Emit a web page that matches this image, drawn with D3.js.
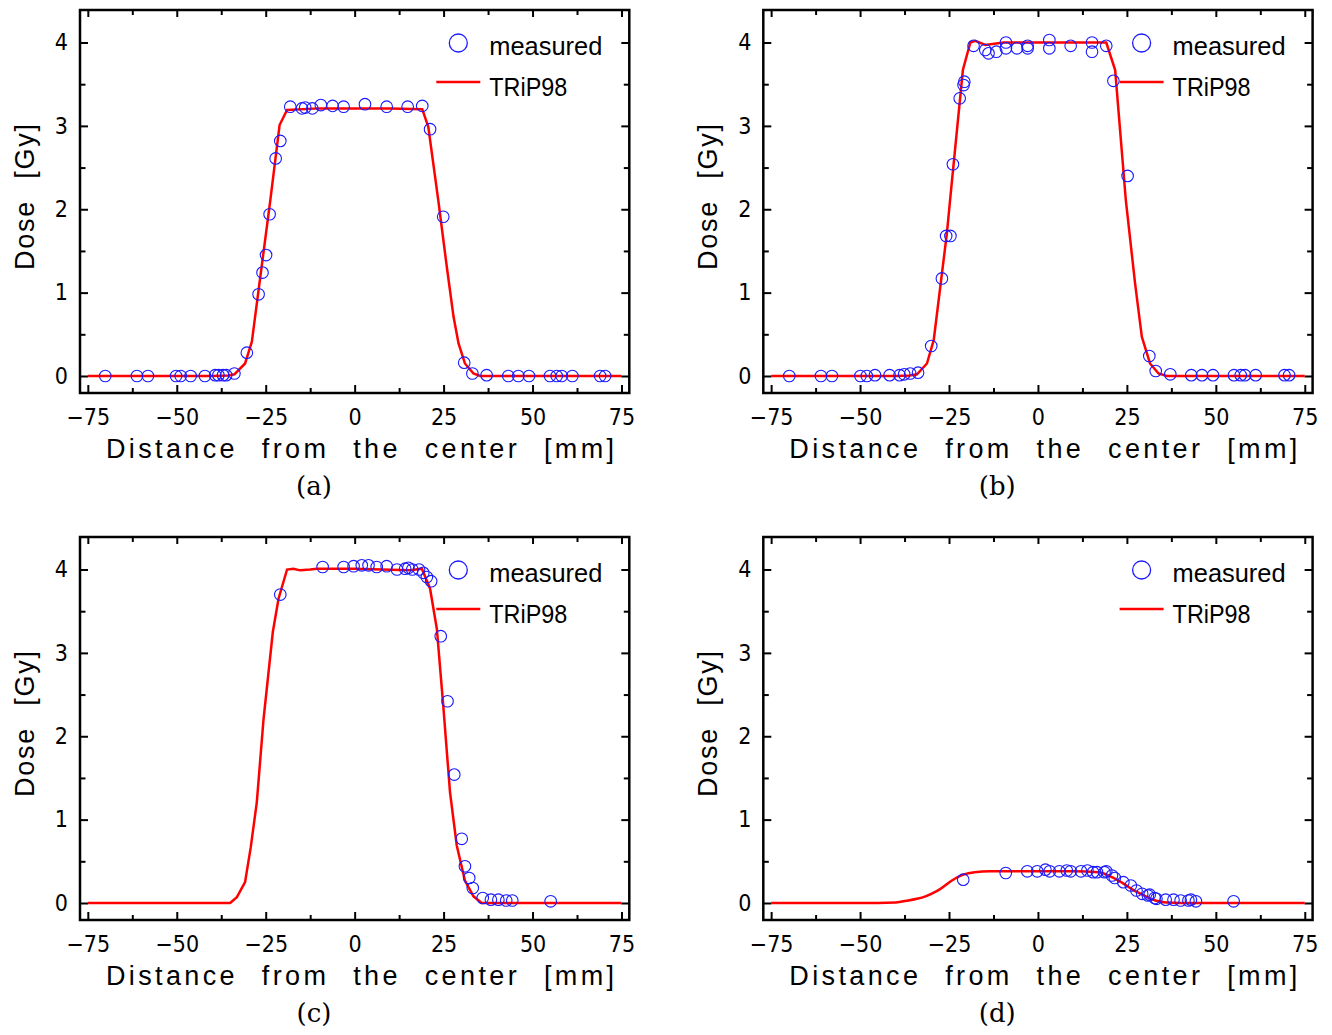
<!DOCTYPE html>
<html>
<head>
<meta charset="utf-8">
<script src="https://cdn.jsdelivr.net/npm/d3@7"></script>
<style>
  body { margin: 0; background: #fff; }
  .tick text { font-family: "Liberation Sans Narrow", "DejaVu Sans Condensed", sans-serif; font-size: 23px; fill: #000; }
  .tick line { stroke: #000; stroke-width: 2; }
  .title { font-family: "Liberation Sans", sans-serif; font-size: 27px; fill: #000; }
</style>
</head>
<body>
<div id="chart"></div>
<script>
// tick values
const xTicks = [-75, -50, -25, 0, 25, 50, 75];
const xMinor = [-62.5, -37.5, -12.5, 12.5, 37.5, 62.5];
const yTicks = [0, 1, 2, 3, 4];
const yMinor = [0.5, 1.5, 2.5, 3.5];
const panelLabels = ["(a)", "(b)", "(c)", "(d)"];

// (a) measured + TRiP98
const measAx = [-70.1,-61.2,-58.1,-50.2,-48.9,-46.1,-42.1,-39.2,-38.3,-37.0,-36.1,-33.8,-30.3,-27.0,-25.9,-24.9,-23.9,-22.2,-20.9,-18.1,-14.8,-13.9,-11.9,-9.5,-6.2,-3.1,2.9,9.0,14.9,19.0,21.2,24.9,30.8,33.1,37.1,43.2,46.0,49.0,54.9,56.8,58.2,61.2,69.0,70.4];
const measAy = [0,0,0,0,0,0,0,0.01,0.01,0.01,0.01,0.03,0.28,0.98,1.24,1.45,1.94,2.61,2.82,3.23,3.21,3.22,3.21,3.25,3.24,3.23,3.26,3.23,3.23,3.24,2.96,1.91,0.16,0.03,0.01,0,0,0,0,0,0,0,0,0];
const fitAx = [-75,-40,-35.5,-33.8,-30.8,-28.9,-23.7,-21.1,-19.0,-10,0,10,19.0,20.7,23.5,25.9,27.8,29.2,31.0,33.4,35.3,75];
const fitAy = [0,0,0.005,0.02,0.15,0.41,2.11,3.01,3.19,3.21,3.21,3.21,3.20,2.99,2.11,1.31,0.71,0.39,0.15,0.03,0,0];

// (b)
const measBx = [-69.9,-61.0,-57.9,-49.9,-48.1,-45.8,-41.7,-38.9,-37.6,-35.9,-33.7,-30.0,-27.0,-25.8,-24.6,-23.9,-22.0,-20.9,-20.7,-18.1,-14.8,-13.9,-11.7,-9.0,-9.0,-5.9,-2.9,-2.9,3.2,3.2,9.2,15.2,15.2,19.2,21.2,25.2,31.3,33.1,37.2,43.1,46.1,49.2,55.1,57.0,58.2,61.2,69.3,70.6];
const measBy = [0,0,0,0,0,0.01,0.01,0.01,0.02,0.03,0.04,0.36,1.17,1.68,1.68,2.54,3.33,3.49,3.53,3.96,3.91,3.87,3.89,4.0,3.93,3.93,3.96,3.93,4.03,3.93,3.96,4.0,3.89,3.96,3.54,2.40,0.24,0.06,0.02,0.01,0.01,0.01,0.01,0.01,0.01,0.01,0.01,0.01];
const fitBx = [-75,-40,-36,-34.0,-31.2,-29.3,-25.6,-24.7,-21.1,-19.0,-17.6,-14.8,-9.7,0,10,19.2,21.7,24.7,27.3,29.2,31.5,33.9,36.2,75];
const fitBy = [0,0,0.005,0.02,0.15,0.43,1.71,2.11,3.67,4.0,4.02,3.97,4.0,4.0,4.0,4.0,3.67,2.11,1.11,0.47,0.15,0.03,0,0];

// (c)
const measCx = [-20.9,-9.0,-3.1,-0.3,2.0,3.9,6.2,9.0,11.9,14.2,15.1,16.2,18.1,19.3,20.3,21.5,24.2,26.1,28.0,30.1,31.0,32.2,33.2,36.0,38.3,40.4,42.6,44.3,55.1];
const measCy = [3.70,4.03,4.03,4.04,4.05,4.05,4.03,4.04,4.0,4.01,4.02,4.0,4.0,3.96,3.91,3.86,3.20,2.42,1.54,0.77,0.44,0.30,0.18,0.06,0.04,0.04,0.03,0.03,0.02];
const fitCx = [-75,-35,-33.1,-30.8,-29.2,-27.5,-25.6,-23.0,-21.4,-19.0,-17.2,-15.3,-12.5,-10.6,-0.4,15.6,18.9,21.2,23.1,24.9,26.8,28.7,31.0,33.4,35.7,75];
const fitCy = [0,0,0.07,0.25,0.67,1.21,2.21,3.25,3.65,4.0,4.01,3.99,4.0,4.01,4.01,3.99,4.01,3.77,3.29,2.37,1.33,0.69,0.27,0.08,0,0];

// (d)
const measDx = [-21.0,-9.05,-3.0,-0.2,2.1,3.3,6.0,8.1,9.2,12.1,13.9,15.5,16.6,18.7,19.2,20.8,21.6,24.0,26.1,27.7,29.3,30.9,31.4,32.8,33.3,35.9,38.1,40.1,42.3,43.0,44.4,55.0];
const measDy = [0.28,0.36,0.38,0.38,0.40,0.38,0.38,0.39,0.38,0.38,0.39,0.37,0.37,0.37,0.38,0.33,0.30,0.25,0.21,0.15,0.11,0.09,0.10,0.06,0.05,0.04,0.04,0.03,0.03,0.04,0.02,0.02];
const fitDx = [-75,-45,-40,-37.9,-34,-31.6,-29,-27.4,-24.2,-21,-17.8,-13.6,0,10,17.1,20.8,23.4,26.6,29.8,33,36.1,40,75];
const fitDy = [0,0,0.005,0.02,0.05,0.08,0.13,0.17,0.27,0.34,0.37,0.38,0.38,0.38,0.37,0.31,0.25,0.16,0.09,0.03,0.005,0,0];

const W = 1332, H = 1035;
const pw = 549.3, ph = 383;

const svg = d3.select("#chart").append("svg")
  .attr("width", W)
  .attr("height", H);

const x = d3.scaleLinear().domain([-77.2, 77.2]).range([0, pw]);
const y = d3.scaleLinear().domain([-0.204, 4.39]).range([ph, 0]);
const fmt = d3.format("d");

const panels = [
  { mx: measAx, my: measAy, fx: fitAx, fy: fitAy, col: 0, row: 0, curve: d3.curveLinear },
  { mx: measBx, my: measBy, fx: fitBx, fy: fitBy, col: 1, row: 0, curve: d3.curveLinear },
  { mx: measCx, my: measCy, fx: fitCx, fy: fitCy, col: 0, row: 1, curve: d3.curveLinear },
  { mx: measDx, my: measDy, fx: fitDx, fy: fitDy, col: 1, row: 1, curve: d3.curveMonotoneX }
];

panels.forEach(function (p, i) {
  let left = 80 + p.col * 683.3;
  let top = 10 + p.row * 527;
  let g = svg.append("g").attr("transform", "translate(" + left + "," + top + ")");

  // ticks, all pointing inward
  let axes = [
    { ax: d3.axisBottom(x).tickValues(xTicks).tickSize(-8).tickPadding(16).tickFormat(fmt), tr: [0, ph] },
    { ax: d3.axisBottom(x).tickValues(xMinor).tickSize(-5).tickFormat(""), tr: [0, ph] },
    { ax: d3.axisTop(x).tickValues(xTicks).tickSize(-7).tickFormat(""), tr: [0, 0] },
    { ax: d3.axisTop(x).tickValues(xMinor).tickSize(-5).tickFormat(""), tr: [0, 0] },
    { ax: d3.axisLeft(y).tickValues(yTicks).tickSize(-8).tickPadding(12).tickFormat(fmt), tr: [0, 0] },
    { ax: d3.axisLeft(y).tickValues(yMinor).tickSize(-5.5).tickFormat(""), tr: [0, 0] },
    { ax: d3.axisRight(y).tickValues(yTicks).tickSize(-8).tickFormat(""), tr: [pw, 0] },
    { ax: d3.axisRight(y).tickValues(yMinor).tickSize(-5.5).tickFormat(""), tr: [pw, 0] }
  ];
  axes.forEach(function (a) {
    let ag = g.append("g")
      .attr("transform", "translate(" + a.tr[0] + "," + a.tr[1] + ")")
      .call(a.ax);
    ag.select(".domain").remove();
    ag.attr("font-family", null).attr("font-size", null);
  });

  g.append("rect")
    .attr("width", pw).attr("height", ph)
    .attr("fill", "none")
    .attr("stroke", "#000")
    .attr("stroke-width", 2.5);

  // TRiP98 curve
  let pts = p.fx.map((v, k) => [v, p.fy[k]]);
  let line = d3.line().x(d => x(d[0])).y(d => y(d[1])).curve(p.curve);
  g.append("path")
    .attr("d", line(pts))
    .attr("fill", "none")
    .attr("stroke", "#ff0000")
    .attr("stroke-width", 2.5);

  // measured points
  let meas = p.mx.map((v, k) => [v, p.my[k]]);
  g.selectAll("circle.m")
    .data(meas).enter()
    .append("circle")
    .attr("class", "m")
    .attr("cx", d => x(d[0]))
    .attr("cy", d => y(d[1]))
    .attr("r", 5.8)
    .attr("fill", "none")
    .attr("stroke", "#1a1aff")
    .attr("stroke-width", 1.1);

  // legend
  g.append("circle")
    .attr("cx", pw - 171).attr("cy", 33).attr("r", 9)
    .attr("fill", "none").attr("stroke", "#1a1aff").attr("stroke-width", 1.3);
  g.append("text")
    .attr("class", "title")
    .attr("x", pw - 140).attr("y", 45)
    .style("font-size", "26px")
    .attr("textLength", 113).attr("lengthAdjust", "spacingAndGlyphs")
    .text("measured");
  g.append("line")
    .attr("x1", pw - 193).attr("x2", pw - 149)
    .attr("y1", 72).attr("y2", 72)
    .attr("stroke", "#ff0000").attr("stroke-width", 2.5);
  g.append("text")
    .attr("class", "title")
    .attr("x", pw - 140).attr("y", 86)
    .style("font-size", "26px")
    .attr("textLength", 78).attr("lengthAdjust", "spacingAndGlyphs")
    .text("TRiP98");

  // axis titles
  g.append("text")
    .attr("class", "title")
    .attr("x", 26).attr("y", ph + 65)
    .style("letter-spacing", "2px")
    .style("word-spacing", "13px")
    .attr("textLength", 510).attr("lengthAdjust", "spacing")
    .text("Distance from the center [mm]");
  g.append("text")
    .attr("class", "title")
    .attr("transform", "translate(-46," + 260 + ") rotate(-90)")
    .style("letter-spacing", "2px")
    .style("word-spacing", "12px")
    .attr("textLength", 148).attr("lengthAdjust", "spacing")
    .text("Dose [Gy]");

  // panel caption
  g.append("text")
    .attr("x", 234).attr("y", ph + 102)
    .attr("text-anchor", "middle")
    .style("font-family", "'DejaVu Serif', serif")
    .style("font-size", "26px")
    .text(panelLabels[i]);
});
</script>
</body>
</html>
